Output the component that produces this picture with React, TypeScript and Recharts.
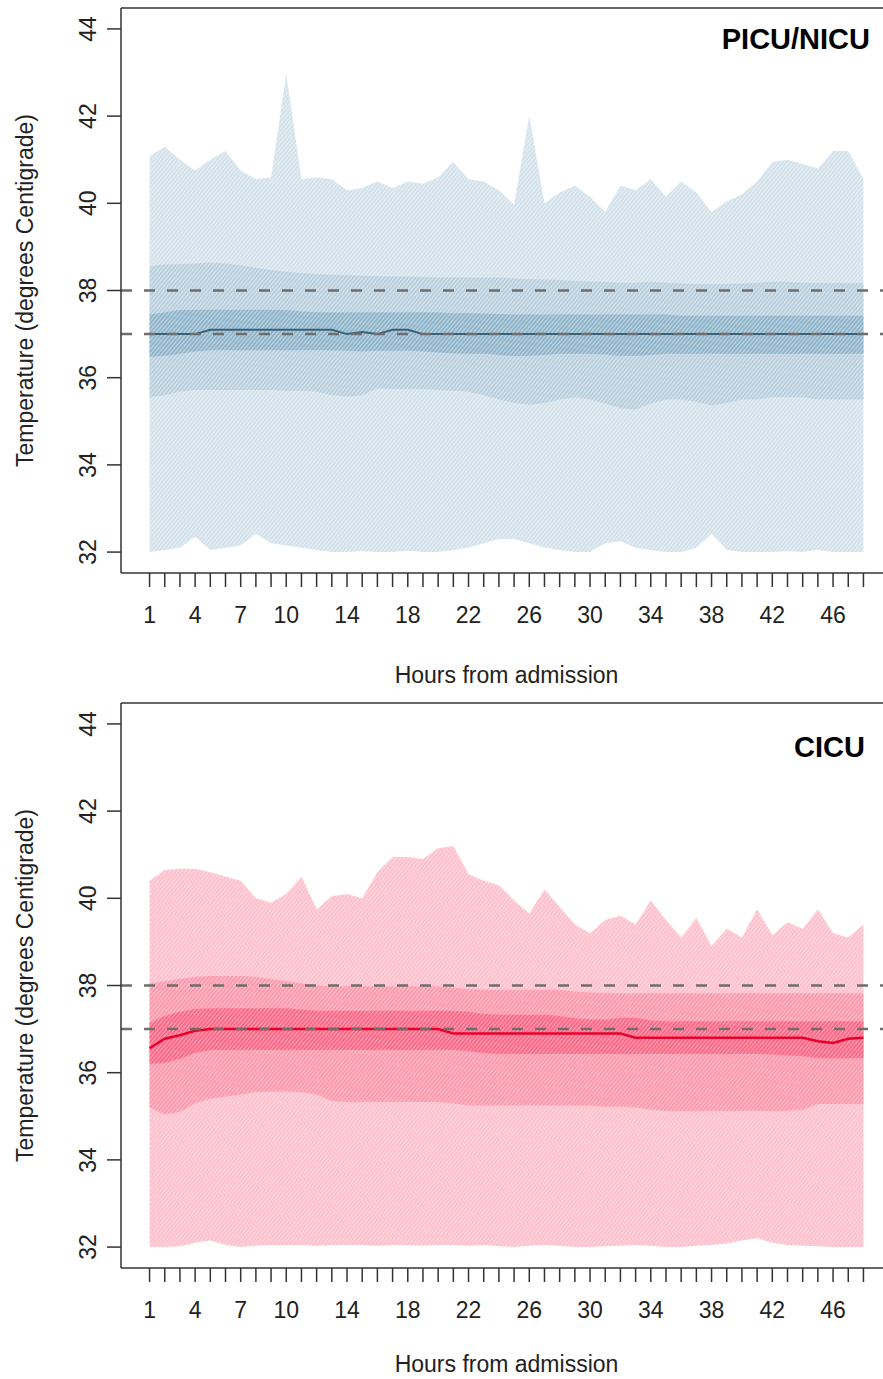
import { Area, ComposedChart, Label, Line, ReferenceLine, XAxis, YAxis } from "recharts";

const hours = [
  1, 2, 3, 4, 5, 6, 7, 8, 9, 10, 11, 12, 13, 14, 15, 16, 17, 18, 19, 20, 21, 22, 23, 24,
  25, 26, 27, 28, 29, 30, 31, 32, 33, 34, 35, 36, 37, 38, 39, 40, 41, 42, 43, 44, 45, 46, 47, 48,
];
const labeledHours = [1, 4, 7, 10, 14, 18, 22, 26, 30, 34, 38, 42, 46];
const yTicks = [32, 34, 36, 38, 40, 42, 44];
const feverLines = [38, 37];

// PICU/NICU
const picuMax = [
  41.08, 41.3, 41.0, 40.75, 41.0, 41.2, 40.75, 40.55, 40.6, 42.97,
  40.55, 40.6, 40.55, 40.3, 40.35, 40.5, 40.35, 40.5, 40.45, 40.6,
  40.95, 40.55, 40.5, 40.3, 39.97, 42.0, 40.0, 40.25, 40.4, 40.15,
  39.8, 40.4, 40.3, 40.55, 40.15, 40.5, 40.25, 39.8, 40.05, 40.2,
  40.5, 40.95, 41.0, 40.9, 40.8, 41.2, 41.2, 40.55,
];
const picuP90 = [
  38.55, 38.6, 38.6, 38.62, 38.64, 38.62, 38.58, 38.52, 38.47, 38.43,
  38.4, 38.38, 38.36, 38.35, 38.34, 38.33, 38.32, 38.32, 38.31, 38.3,
  38.3, 38.3, 38.3, 38.3, 38.28, 38.26, 38.25, 38.24, 38.22, 38.2,
  38.2, 38.18, 38.18, 38.2, 38.18, 38.16, 38.15, 38.15, 38.15, 38.16,
  38.18, 38.2, 38.2, 38.18, 38.17, 38.17, 38.17, 38.17,
];
const picuP75 = [
  37.45, 37.5, 37.55, 37.56, 37.56, 37.56, 37.56, 37.56, 37.56, 37.55,
  37.52, 37.5, 37.5, 37.5, 37.5, 37.5, 37.5, 37.5, 37.5, 37.5,
  37.48, 37.48, 37.47, 37.46, 37.45, 37.45, 37.45, 37.45, 37.45, 37.45,
  37.45, 37.45, 37.45, 37.45, 37.45, 37.42, 37.42, 37.42, 37.42, 37.42,
  37.42, 37.42, 37.42, 37.42, 37.42, 37.42, 37.42, 37.42,
];
const picuMedian = [
  37.0, 37.0, 37.0, 37.0, 37.1, 37.1, 37.1, 37.1, 37.1, 37.1,
  37.1, 37.1, 37.1, 37.0, 37.05, 37.0, 37.1, 37.1, 37.0, 37.0,
  37.0, 37.0, 37.0, 37.0, 37.0, 37.0, 37.0, 37.0, 37.0, 37.0,
  37.0, 37.0, 37.0, 37.0, 37.0, 37.0, 37.0, 37.0, 37.0, 37.0,
  37.0, 37.0, 37.0, 37.0, 37.0, 37.0, 37.0, 37.0,
];
const picuP25 = [
  36.48, 36.5, 36.55, 36.6, 36.63, 36.63, 36.63, 36.63, 36.63, 36.63,
  36.63, 36.63, 36.63, 36.62, 36.6, 36.62, 36.62, 36.62, 36.6, 36.58,
  36.56, 36.55, 36.55, 36.52, 36.5, 36.5, 36.52, 36.55, 36.55, 36.55,
  36.53, 36.5, 36.5, 36.52, 36.55, 36.55, 36.55, 36.55, 36.55, 36.55,
  36.55, 36.55, 36.55, 36.55, 36.55, 36.55, 36.55, 36.55,
];
const picuP10 = [
  35.55, 35.6, 35.68, 35.72, 35.72, 35.72, 35.72, 35.72, 35.72, 35.7,
  35.7, 35.68, 35.6, 35.56, 35.6, 35.75, 35.74, 35.74, 35.74, 35.72,
  35.7, 35.68, 35.6, 35.5, 35.42, 35.38, 35.42, 35.5, 35.55, 35.5,
  35.4, 35.3, 35.27, 35.4, 35.5, 35.5, 35.45, 35.36, 35.42, 35.5,
  35.5, 35.55, 35.55, 35.55, 35.5, 35.5, 35.5, 35.5,
];
const picuMin = [
  32.0, 32.05, 32.1, 32.35, 32.05, 32.1, 32.15, 32.42, 32.2, 32.15,
  32.1, 32.05, 32.0, 32.0, 32.02, 32.0, 32.0, 32.03, 32.0, 32.0,
  32.05, 32.1, 32.2, 32.3, 32.3, 32.2, 32.1, 32.05, 32.0, 32.0,
  32.2, 32.25, 32.1, 32.05, 32.0, 32.0, 32.1, 32.42, 32.05, 32.0,
  32.0, 32.0, 32.02, 32.0, 32.05, 32.0, 32.0, 32.0,
];

// CICU
const cicuMax = [
  40.4, 40.65, 40.68, 40.68, 40.6, 40.5, 40.4, 40.0, 39.9, 40.1,
  40.5, 39.75, 40.05, 40.1, 40.0, 40.6, 40.95, 40.95, 40.9, 41.15,
  41.2, 40.55, 40.4, 40.3, 39.95, 39.65, 40.2, 39.8, 39.4, 39.2,
  39.5, 39.6, 39.4, 39.95, 39.5, 39.1, 39.55, 38.9, 39.3, 39.1,
  39.75, 39.15, 39.45, 39.3, 39.75, 39.2, 39.1, 39.4,
];
const cicuP90 = [
  38.05, 38.1, 38.15, 38.2, 38.22, 38.22, 38.22, 38.2, 38.15, 38.1,
  38.05, 38.0, 37.98, 37.98, 37.98, 37.98, 37.98, 37.98, 37.98, 37.98,
  37.95, 37.92, 37.9, 37.9, 37.9, 37.9, 37.9, 37.9, 37.86, 37.84,
  37.82, 37.82, 37.82, 37.82, 37.82, 37.82, 37.82, 37.82, 37.82, 37.82,
  37.82, 37.82, 37.82, 37.82, 37.82, 37.82, 37.82, 37.82,
];
const cicuP75 = [
  37.14, 37.3, 37.4, 37.46, 37.48, 37.48, 37.48, 37.48, 37.48, 37.48,
  37.45, 37.42, 37.42, 37.42, 37.42, 37.42, 37.42, 37.42, 37.42, 37.42,
  37.42, 37.4, 37.35, 37.33, 37.33, 37.33, 37.33, 37.3, 37.25, 37.22,
  37.22, 37.26, 37.26, 37.2, 37.18, 37.18, 37.18, 37.18, 37.18, 37.18,
  37.18, 37.18, 37.18, 37.18, 37.18, 37.18, 37.18, 37.18,
];
const cicuMedian = [
  36.56, 36.78, 36.86, 36.96, 37.0, 37.0, 37.0, 37.0, 37.0, 37.0,
  37.0, 37.0, 37.0, 37.0, 37.0, 37.0, 37.0, 37.0, 37.0, 37.0,
  36.9, 36.9, 36.9, 36.9, 36.9, 36.9, 36.9, 36.9, 36.9, 36.9,
  36.9, 36.9, 36.8, 36.8, 36.8, 36.8, 36.8, 36.8, 36.8, 36.8,
  36.8, 36.8, 36.8, 36.8, 36.72, 36.68, 36.78, 36.8,
];
const cicuP25 = [
  36.2, 36.22, 36.32, 36.45, 36.52, 36.52, 36.52, 36.52, 36.52, 36.52,
  36.52, 36.52, 36.52, 36.52, 36.52, 36.52, 36.52, 36.52, 36.52, 36.52,
  36.52, 36.5, 36.45, 36.43, 36.43, 36.43, 36.43, 36.43, 36.43, 36.43,
  36.43, 36.43, 36.43, 36.43, 36.43, 36.43, 36.43, 36.43, 36.43, 36.43,
  36.43, 36.42, 36.4, 36.38, 36.33, 36.33, 36.33, 36.33,
];
const cicuP10 = [
  35.2, 35.04, 35.1, 35.3, 35.4, 35.45, 35.5, 35.55, 35.57, 35.57,
  35.55, 35.5, 35.35, 35.33, 35.33, 35.33, 35.33, 35.33, 35.33, 35.33,
  35.3, 35.25, 35.25, 35.25, 35.25, 35.25, 35.25, 35.25, 35.25, 35.25,
  35.22, 35.22, 35.2, 35.15, 35.12, 35.12, 35.12, 35.12, 35.12, 35.12,
  35.12, 35.12, 35.12, 35.15, 35.28, 35.28, 35.28, 35.28,
];
const cicuMin = [
  32.0, 32.0, 32.02, 32.1, 32.15, 32.05, 32.0, 32.03, 32.05, 32.05,
  32.05, 32.03, 32.05, 32.05, 32.05, 32.03, 32.05, 32.05, 32.03, 32.05,
  32.05, 32.03, 32.05, 32.02, 32.0, 32.03, 32.05, 32.03, 32.0, 32.0,
  32.02, 32.03, 32.05, 32.03, 32.0, 32.0, 32.03, 32.05, 32.08, 32.15,
  32.2, 32.1, 32.05, 32.03, 32.02, 32.0, 32.0, 32.0,
];

type Palette = { outer: string; mid: string; inner: string; median: string; medianWidth: number };

const bluePalette: Palette = { outer: "#d3e2eb", mid: "#b9d0de", inner: "#8fb5cb", median: "#3a6178", medianWidth: 2 };
const redPalette: Palette = { outer: "#ffbfcc", mid: "#ff97ab", inner: "#ff6584", median: "#e8002d", medianWidth: 2.5 };

function buildRows(
  min: number[], p10: number[], p25: number[], median: number[], p75: number[], p90: number[], max: number[],
) {
  return hours.map((hour, i) => ({
    hour,
    outer: [min[i], max[i]],
    mid: [p10[i], p90[i]],
    inner: [p25[i], p75[i]],
    median: median[i],
  }));
}

const picuRows = buildRows(picuMin, picuP10, picuP25, picuMedian, picuP75, picuP90, picuMax);
const cicuRows = buildRows(cicuMin, cicuP10, cicuP25, cicuMedian, cicuP75, cicuP90, cicuMax);

const FONT = "'Liberation Sans', Arial, sans-serif";
const INK = "#222";
const AXIS = "#333";

function XTick({ x, y, payload }: any) {
  if (!labeledHours.includes(payload.value)) return <g />;
  return (
    <text x={x} y={y + 34} textAnchor="middle" fontSize={23} fill={INK} fontFamily={FONT}>
      {payload.value}
    </text>
  );
}

function YTick({ x, y, payload }: any) {
  const bx = x - 9;
  return (
    <text x={bx} y={y} transform={`rotate(-90, ${bx}, ${y})`} textAnchor="middle" fontSize={23} fill={INK} fontFamily={FONT}>
      {payload.value}
    </text>
  );
}

function HatchPattern({ id, color }: { id: string; color: string }) {
  return (
    <pattern id={id} width={3} height={3} patternUnits="userSpaceOnUse" patternTransform="rotate(-50)">
      <rect width={3} height={3} fill={color} />
      <rect width={3} height={1} fill="#ffffff" fillOpacity={0.45} />
    </pattern>
  );
}

function Panel({ id, rows, palette, title, titleRight, titleBaseline, xTitleOffset }: {
  id: string; rows: ReturnType<typeof buildRows>; palette: Palette; title: string;
  titleRight: number; titleBaseline: number; xTitleOffset: number;
}) {
  return (
    <div style={{ position: "relative", width: 900, height: 694 }}>
      <ComposedChart width={900} height={694} data={rows} margin={{ top: 8, right: 8, bottom: 0, left: 0 }}>
        <defs>
          <HatchPattern id={`${id}-outer`} color={palette.outer} />
          <HatchPattern id={`${id}-mid`} color={palette.mid} />
          <HatchPattern id={`${id}-inner`} color={palette.inner} />
        </defs>
        <XAxis
          dataKey="hour"
          type="number"
          domain={[-0.88, 49.88]}
          ticks={hours}
          interval={0}
          tick={<XTick />}
          tickSize={14}
          height={121}
          stroke={AXIS}
          strokeWidth={1.5}
          allowDataOverflow
        >
          <Label
            content={({ viewBox }: any) => (
              <text x={viewBox.x + viewBox.width / 2} y={viewBox.y + xTitleOffset} textAnchor="middle" fontSize={23} fill={INK} fontFamily={FONT}>
                Hours from admission
              </text>
            )}
          />
        </XAxis>
        <YAxis
          type="number"
          domain={[31.52, 44.48]}
          ticks={yTicks}
          tick={<YTick />}
          tickSize={14}
          width={121}
          stroke={AXIS}
          strokeWidth={1.5}
          allowDataOverflow
        >
          <Label
            content={({ viewBox }: any) => {
              const cy = viewBox.y + viewBox.height / 2;
              return (
                <text x={33} y={cy} transform={`rotate(-90, 33, ${cy})`} textAnchor="middle" fontSize={23} fill={INK} fontFamily={FONT}>
                  Temperature (degrees Centigrade)
                </text>
              );
            }}
          />
        </YAxis>
        <Area dataKey="outer" type="linear" stroke="none" fill={`url(#${id}-outer)`} fillOpacity={1} isAnimationActive={false} />
        <Area dataKey="mid" type="linear" stroke="none" fill={`url(#${id}-mid)`} fillOpacity={1} isAnimationActive={false} />
        <Area dataKey="inner" type="linear" stroke="none" fill={`url(#${id}-inner)`} fillOpacity={1} isAnimationActive={false} />
        <Line dataKey="median" type="linear" stroke={palette.median} strokeWidth={palette.medianWidth} dot={false} isAnimationActive={false} />
        {feverLines.map((v) => (
          <ReferenceLine key={v} y={v} stroke="#6e6e6e" strokeWidth={2.5} strokeDasharray="11 12" />
        ))}
        <ReferenceLine y={44.48} stroke={AXIS} strokeWidth={1.5} />
      </ComposedChart>
      <svg width={900} height={694} style={{ position: "absolute", left: 0, top: 0, pointerEvents: "none" }}>
        <text x={titleRight} y={titleBaseline} textAnchor="end" fontSize={29} fontWeight="bold" fill="#000" fontFamily={FONT}>
          {title}
        </text>
      </svg>
    </div>
  );
}

export default function App() {
  return (
    <div style={{ position: "absolute", left: 0, top: 0, width: 883, height: 1379, overflow: "hidden", background: "#fff", fontFamily: FONT }}>
      <Panel id="picu" rows={picuRows} palette={bluePalette} title="PICU/NICU" titleRight={870} titleBaseline={49} xTitleOffset={110} />
      <div style={{ position: "absolute", left: 0, top: 695 }}>
        <Panel id="cicu" rows={cicuRows} palette={redPalette} title="CICU" titleRight={865} titleBaseline={62} xTitleOffset={104} />
      </div>
    </div>
  );
}
